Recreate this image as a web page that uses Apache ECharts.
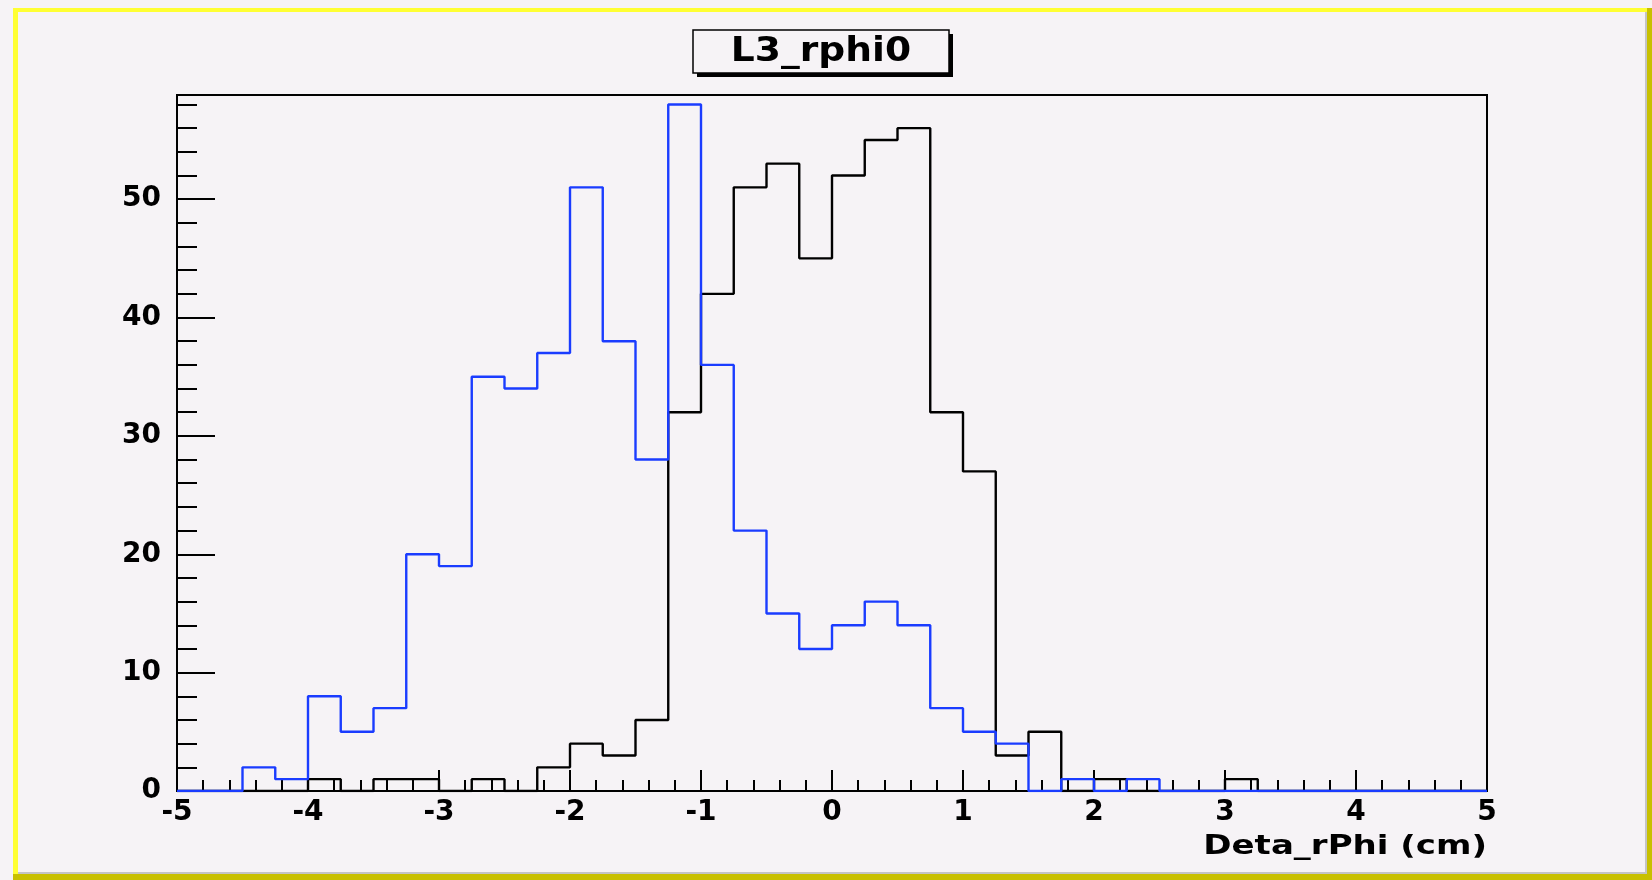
<!DOCTYPE html>
<html>
<head>
<meta charset="utf-8">
<title>L3_rphi0</title>
<script src="https://cdn.jsdelivr.net/npm/echarts@6/dist/echarts.min.js"></script>
<style>
  html, body { margin: 0; padding: 0; background: #f6f3f6; }
  #chart { width: 1652px; height: 880px; }
</style>
</head>
<body>
<div id="chart"></div>
<script>
// bin left edges (40 bins of 0.25 from -5 to 5) plus the last right edge
var binEdges = [-5, -4.75, -4.5, -4.25, -4, -3.75, -3.5, -3.25, -3, -2.75,
                -2.5, -2.25, -2, -1.75, -1.5, -1.25, -1, -0.75, -0.5, -0.25,
                0, 0.25, 0.5, 0.75, 1, 1.25, 1.5, 1.75, 2, 2.25,
                2.5, 2.75, 3, 3.25, 3.5, 3.75, 4, 4.25, 4.5, 4.75, 5];

// black histogram
var countsBlack = [0, 0, 0, 0, 1, 0, 1, 1, 0, 1,
                   0, 2, 4, 3, 6, 32, 42, 51, 53, 45,
                   52, 55, 56, 32, 27, 3, 5, 0, 1, 0,
                   0, 0, 1, 0, 0, 0, 0, 0, 0, 0];

// blue histogram
var countsBlue = [0, 0, 2, 1, 8, 5, 7, 20, 19, 35,
                  34, 37, 51, 38, 28, 58, 36, 22, 15, 12,
                  14, 16, 14, 7, 5, 4, 0, 1, 0, 1,
                  0, 0, 0, 0, 0, 0, 0, 0, 0, 0];

var xTicks = [-5, -4, -3, -2, -1, 0, 1, 2, 3, 4, 5];
var yTicks = [0, 10, 20, 30, 40, 50];

var titleText = 'L3_rphi0';
var xTitle = 'Deta_rPhi (cm)';

function stepData(counts) {
    var n = counts.length;
    return binEdges.map(function (x, i) {
        return [x, i < n ? counts[i] : counts[n - 1]];
    });
}

var bg = '#f6f3f6';
var labelFont = { fontFamily: 'DejaVu Sans', fontWeight: 'bold', fontSize: 28, color: '#000' };

var myChart = echarts.init(document.getElementById('chart'), null, { renderer: 'canvas' });

var option = {
    backgroundColor: bg,
    animation: false,
    grid: {
        left: 177, right: 165, top: 95, bottom: 89,
        show: true,
        borderColor: '#000',
        borderWidth: 2,
        backgroundColor: 'transparent',
        containLabel: false
    },
    xAxis: {
        type: 'value',
        min: xTicks[0],
        max: xTicks[xTicks.length - 1],
        interval: 1,
        splitLine: { show: false },
        axisLine: { show: true, onZero: false, lineStyle: { color: '#000', width: 2 } },
        axisTick: { show: true, inside: true, length: 21, lineStyle: { color: '#000', width: 2 } },
        minorTick: { show: true, splitNumber: 5, length: 11, lineStyle: { color: '#000', width: 2 } },
        axisLabel: Object.assign({ margin: 8, showMinLabel: true, showMaxLabel: true }, labelFont)
    },
    yAxis: {
        type: 'value',
        min: yTicks[0],
        max: 58.8,
        interval: 10,
        splitLine: { show: false },
        axisLine: { show: true, onZero: false, lineStyle: { color: '#000', width: 2 } },
        axisTick: { show: true, inside: true, length: 38, lineStyle: { color: '#000', width: 2 } },
        minorTick: { show: true, splitNumber: 5, length: 20, lineStyle: { color: '#000', width: 2 } },
        axisLabel: Object.assign({
            margin: 16,
            showMaxLabel: false,
            formatter: function (v) { return yTicks.indexOf(v) >= 0 ? String(v) : ''; }
        }, labelFont)
    },
    series: [{
        name: 'black',
        type: 'line',
        step: 'end',
        symbol: 'none',
        silent: true,
        lineStyle: { color: '#000', width: 2.4 },
        data: stepData(countsBlack)
    }, {
        name: 'blue',
        type: 'line',
        step: 'end',
        symbol: 'none',
        silent: true,
        lineStyle: { color: '#1a3cff', width: 2.4 },
        data: stepData(countsBlue)
    }],
    graphic: [
        // canvas bevel border
        { type: 'rect', shape: { x: 13, y: 8, width: 1639, height: 4 }, style: { fill: '#ffff33' }, silent: true },
        { type: 'rect', shape: { x: 13, y: 8, width: 5, height: 866 }, style: { fill: '#ffff33' }, silent: true },
        { type: 'rect', shape: { x: 18, y: 872, width: 1630, height: 2 }, style: { fill: '#c4c4c4' }, silent: true },
        { type: 'rect', shape: { x: 1645, y: 12, width: 2, height: 862 }, style: { fill: '#c4c4c4' }, silent: true },
        { type: 'rect', shape: { x: 13, y: 874, width: 1639, height: 6 }, style: { fill: '#c8c000' }, silent: true },
        { type: 'rect', shape: { x: 1647, y: 8, width: 5, height: 872 }, style: { fill: '#c8c000' }, silent: true },
        // title box with shadow
        { type: 'rect', shape: { x: 697, y: 34, width: 256, height: 43 }, style: { fill: '#000' }, silent: true },
        { type: 'rect', shape: { x: 693, y: 30, width: 256, height: 43 }, style: { fill: bg, stroke: '#000', lineWidth: 1.5 }, silent: true },
        {
            type: 'text', x: 821, y: 52, scaleX: 1.14, silent: true,
            style: {
                text: titleText, fill: '#000',
                font: 'bold 33px "DejaVu Sans"',
                textAlign: 'center', textVerticalAlign: 'middle'
            }
        },
        {
            type: 'text', x: 1487, y: 847, scaleX: 1.26, silent: true,
            style: {
                text: xTitle, fill: '#000',
                font: 'bold 27px "DejaVu Sans"',
                textAlign: 'right', textVerticalAlign: 'middle'
            }
        }
    ]
};

myChart.setOption(option, true);
</script>
</body>
</html>
